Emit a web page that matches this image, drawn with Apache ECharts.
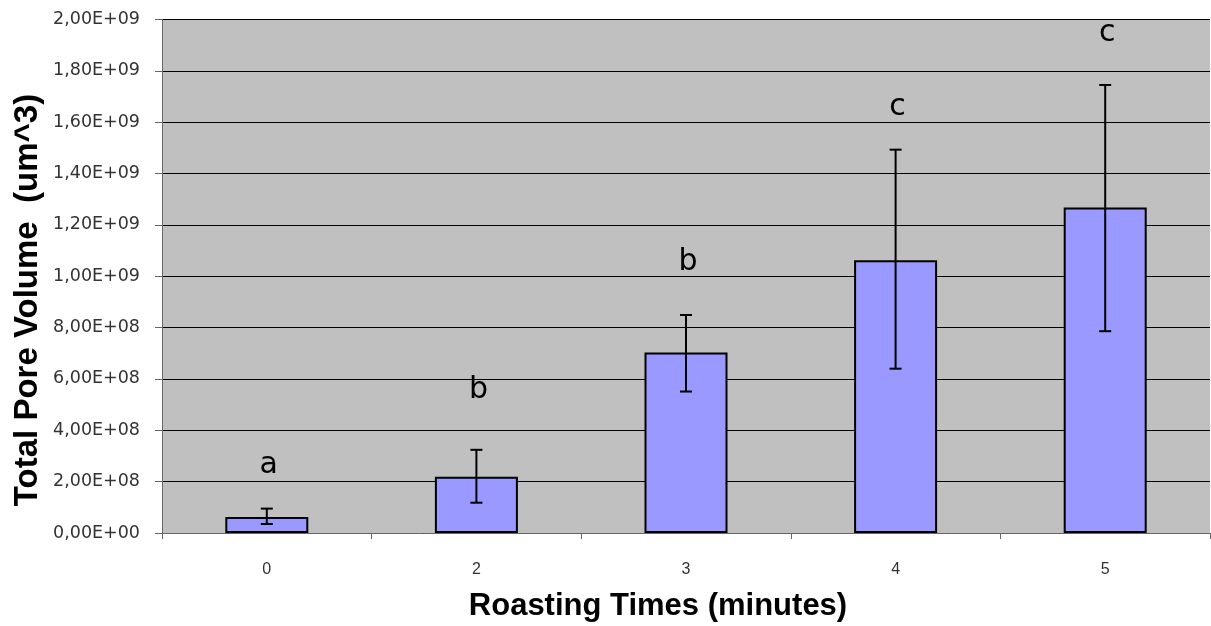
<!DOCTYPE html>
<html>
<head>
<meta charset="utf-8">
<script src="https://cdn.jsdelivr.net/npm/echarts@6/dist/echarts.min.js"></script>
<style>
html,body{margin:0;padding:0;background:#fff;}
#c{width:1211px;height:626px;}
</style>
</head>
<body>
<div id="c"></div>
<script>
const categories = ['0', '2', '3', '4', '5'];
const meanVolume = [6.2e7, 2.19e8, 7.03e8, 1.062e9, 1.268e9];
const errLow = [3.5e7, 1.18e8, 5.51e8, 6.40e8, 7.86e8];
const errHigh = [9.5e7, 3.24e8, 8.49e8, 1.493e9, 1.745e9];
const groupLetters = ['a', 'b', 'b', 'c', 'c'];
const letterLevels = [2.66e8, 5.58e8, 1.055e9, 1.66e9, 1.947e9];
const yTickLabels = ['0,00E+00','2,00E+08','4,00E+08','6,00E+08','8,00E+08','1,00E+09','1,20E+09','1,40E+09','1,60E+09','1,80E+09','2,00E+09'];

const chart = echarts.init(document.getElementById('c'), null, {renderer: 'canvas'});

const errData = categories.map((c, i) => [i, errLow[i], errHigh[i]]);
const letterData = categories.map((c, i) => [i, letterLevels[i], groupLetters[i]]);

const option = {
  animation: false,
  backgroundColor: '#ffffff',
  grid: {
    left: 162, right: 1, top: 19.5, bottom: 93,
    show: true, backgroundColor: '#c0c0c0', borderWidth: 0
  },
  xAxis: {
    type: 'category',
    data: categories,
    axisLine: {lineStyle: {color: '#666666', width: 1}},
    axisTick: {show: true, length: 6, lineStyle: {color: '#666666'}},
    axisLabel: {color: '#333333', fontFamily: 'Liberation Sans', fontSize: 16, margin: 29},
    splitLine: {show: false}
  },
  yAxis: {
    type: 'value',
    min: 0, max: 2e9, interval: 2e8,
    axisLine: {show: true, lineStyle: {color: '#666666', width: 1}},
    axisTick: {show: true, length: 7, lineStyle: {color: '#666666'}},
    axisLabel: {
      color: '#333333', fontFamily: 'DejaVu Sans', fontSize: 17.5, margin: 22,
      formatter: function (v) { return yTickLabels[Math.round(v / 2e8)]; }
    },
    splitLine: {show: true, lineStyle: {color: '#000000', width: 1}}
  },
  series: [
    {
      type: 'bar',
      data: meanVolume,
      barWidth: 83,
      itemStyle: {color: '#9999ff', borderColor: '#000000', borderWidth: 2},
      z: 2
    },
    {
      type: 'custom',
      data: errData,
      z: 3,
      renderItem: function (params, api) {
        const x = api.coord([api.value(0), 0])[0];
        const lo = api.coord([api.value(0), api.value(1)])[1];
        const hi = api.coord([api.value(0), api.value(2)])[1];
        const cap = 6;
        const st = {stroke: '#000000', lineWidth: 2};
        return {
          type: 'group',
          children: [
            {type: 'line', shape: {x1: x, y1: lo, x2: x, y2: hi}, style: st},
            {type: 'line', shape: {x1: x - cap, y1: hi, x2: x + cap, y2: hi}, style: st},
            {type: 'line', shape: {x1: x - cap, y1: lo, x2: x + cap, y2: lo}, style: st}
          ]
        };
      }
    },
    {
      type: 'custom',
      data: letterData,
      z: 4,
      renderItem: function (params, api) {
        const p = api.coord([api.value(0), api.value(1)]);
        return {
          type: 'text',
          x: p[0] + 2, y: p[1],
          style: {
            text: groupLetters[params.dataIndex],
            fill: '#000000',
            font: '30px "DejaVu Sans"',
            textAlign: 'center',
            textVerticalAlign: 'middle'
          }
        };
      }
    }
  ],
  graphic: [
    {
      type: 'text',
      x: 28, y: 300,
      rotation: Math.PI / 2,
      style: {
        text: 'Total Pore Volume  (um^3)',
        fill: '#000000',
        font: 'bold 33px "Liberation Sans"',
        textAlign: 'center',
        textVerticalAlign: 'middle'
      }
    },
    {
      type: 'text',
      x: 658, y: 606,
      style: {
        text: 'Roasting Times (minutes)',
        fill: '#000000',
        font: 'bold 31px "Liberation Sans"',
        textAlign: 'center',
        textVerticalAlign: 'middle'
      }
    }
  ]
};
chart.setOption(option);
</script>
</body>
</html>
